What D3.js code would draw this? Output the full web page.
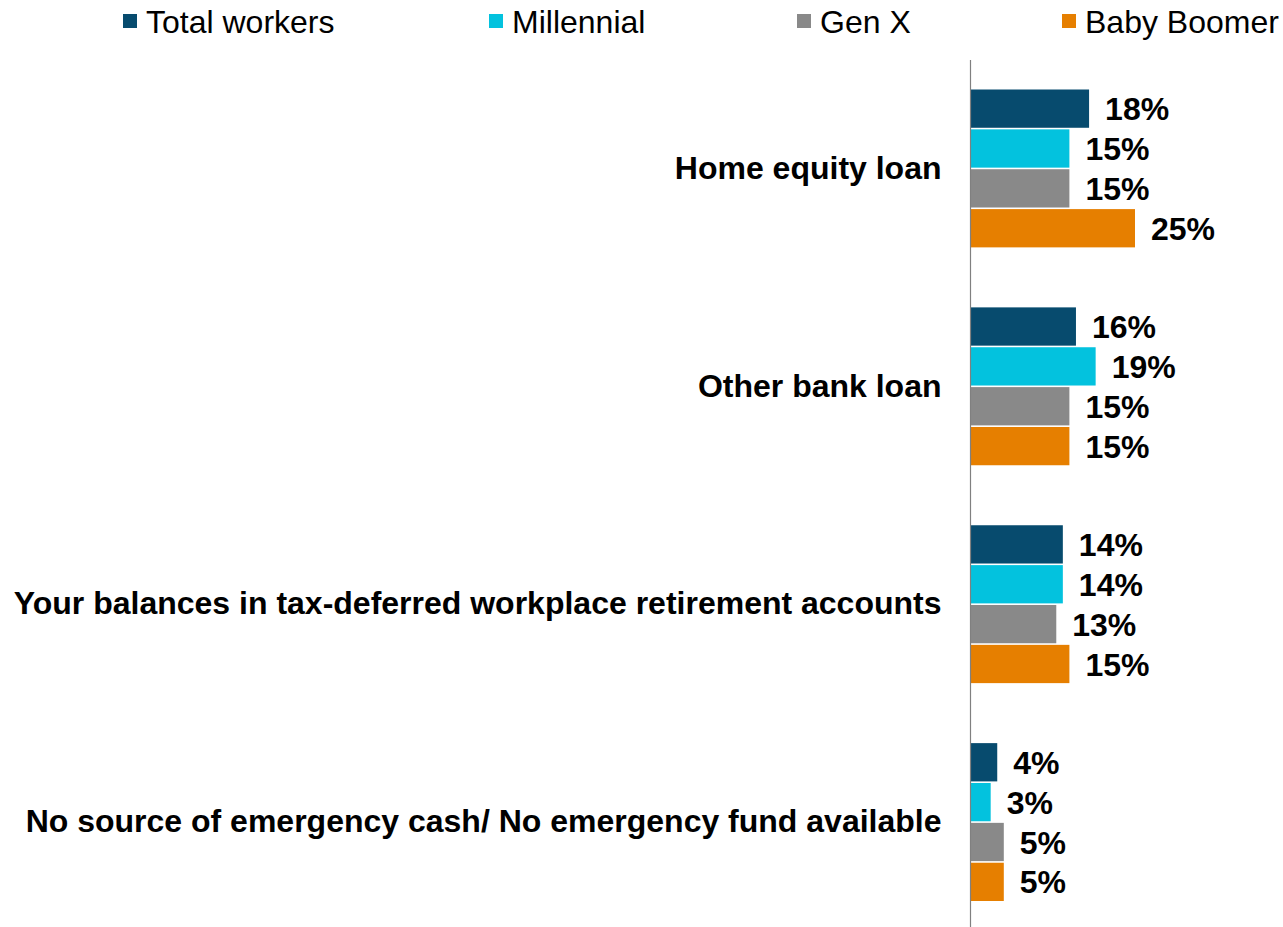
<!DOCTYPE html>
<html>
<head>
<meta charset="utf-8">
<script src="https://cdn.jsdelivr.net/npm/d3@7"></script>
<style>
  html, body { margin: 0; padding: 0; background: #fff; }
  svg { display: block; font-family: "Liberation Sans", Arial, sans-serif; }
</style>
</head>
<body>
<svg id="chart" width="1283" height="927"></svg>
<script>
// Sources of emergency cash, by generation (percent of workers)
const categories = [
  "Home equity loan",
  "Other bank loan",
  "Your balances in tax-deferred workplace retirement accounts",
  "No source of emergency cash/ No emergency fund available"
];
const seriesNames = ["Total workers", "Millennial", "Gen X", "Baby Boomer"];
const seriesColors = ["#074B6E", "#03C2DE", "#898989", "#E67F00"];
const totalWorkers = [18, 16, 14, 4];
const millennial   = [15, 19, 14, 3];
const genX         = [15, 15, 13, 5];
const babyBoomer   = [25, 15, 15, 5];
const seriesValues = [totalWorkers, millennial, genX, babyBoomer];

const svg = d3.select("#chart");
const axisX = 970.5;
const plotTop = 59.5, plotBottom = 931;
const fontSize = 32;

const x = d3.scaleLinear().domain([0, 25]).range([axisX + 0.5, axisX + 0.5 + 164]);
const y0 = d3.scaleBand().domain(categories).range([plotTop, plotBottom]).padding(0);
const y1 = d3.scaleBand().domain(seriesNames)
  .range([30, y0.bandwidth() - 30]).paddingInner(0.04).paddingOuter(0);

// Groups of bars
const groups = svg.append("g").selectAll("g")
  .data(categories)
  .join("g")
  .attr("transform", d => `translate(0,${y0(d)})`);

groups.selectAll("rect")
  .data((c, i) => seriesNames.map((s, j) => ({ s, j, v: seriesValues[j][i] })))
  .join("rect")
  .attr("x", x(0))
  .attr("y", d => y1(d.s))
  .attr("width", d => x(d.v) - x(0))
  .attr("height", y1.bandwidth())
  .attr("fill", d => seriesColors[d.j]);

// Value labels
groups.selectAll("text.val")
  .data((c, i) => seriesNames.map((s, j) => ({ s, j, v: seriesValues[j][i] })))
  .join("text")
  .attr("class", "val")
  .attr("x", d => x(d.v) + 16)
  .attr("y", d => y1(d.s) + y1.bandwidth() / 2)
  .attr("dy", "0.36em")
  .attr("font-size", fontSize)
  .attr("font-weight", "bold")
  .attr("fill", "#000")
  .text(d => d.v + "%");

// Category axis
const yAxis = d3.axisLeft(y0).tickSize(0).tickPadding(29);
const axisG = svg.append("g").attr("transform", `translate(${axisX},0)`).call(yAxis);
axisG.select(".domain").remove();
axisG.selectAll("text")
  .attr("font-size", fontSize)
  .attr("font-weight", "bold")
  .attr("font-family", "'Liberation Sans', Arial, sans-serif")
  .attr("fill", "#000");
svg.append("line")
  .attr("x1", axisX).attr("x2", axisX)
  .attr("y1", 60).attr("y2", 927)
  .attr("stroke", "#808080").attr("stroke-width", 1.2);

// Legend
const legendX = [123, 489, 797, 1062];
const legend = svg.append("g").selectAll("g")
  .data(seriesNames)
  .join("g")
  .attr("transform", (d, i) => `translate(${legendX[i]},0)`);
legend.append("rect")
  .attr("x", 0).attr("y", 14).attr("width", 14).attr("height", 14)
  .attr("fill", (d, i) => seriesColors[i]);
legend.append("text")
  .attr("x", 23).attr("y", 21).attr("dy", "0.36em")
  .attr("font-size", fontSize)
  .attr("fill", "#000")
  .text(d => d);
</script>
</body>
</html>
